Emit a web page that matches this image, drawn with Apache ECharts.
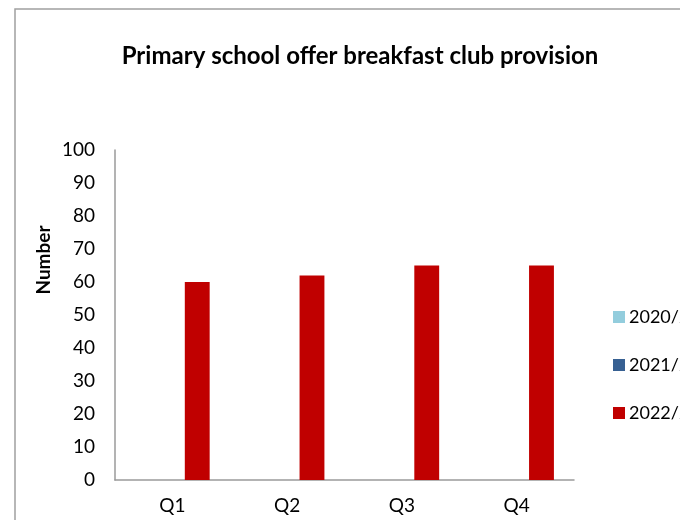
<!DOCTYPE html>
<html>
<head>
<meta charset="utf-8">
<script src="https://cdn.jsdelivr.net/npm/echarts@6/dist/echarts.min.js"></script>
<style>
  html, body { margin: 0; padding: 0; background: #ffffff; }
  #chart { width: 680px; height: 520px; }
</style>
</head>
<body>
<div id="chart"></div>
<script>
// Quarters on the x axis
const quarters = ['Q1', 'Q2', 'Q3', 'Q4'];
// Number of primary schools offering breakfast club provision, per school year
const year2020 = [null, null, null, null];
const year2021 = [null, null, null, null];
const year2022 = [60, 62, 65, 65];
const seriesNames = ['2020/21', '2021/22', '2022/23'];
const seriesColors = ['#93CDDD', '#376092', '#C00000'];
const yTicks = { min: 0, max: 100, interval: 10 };

const FONT = 'Lato, "Noto Sans", sans-serif';

const chart = echarts.init(document.getElementById('chart'), null, { renderer: 'canvas' });

const values = [year2020, year2021, year2022];

chart.setOption({
  backgroundColor: '#ffffff',
  animation: false,
  title: {
    text: 'Primary school offer breakfast club provision',
    left: 355,
    textAlign: 'center',
    top: 39,
    textStyle: { fontFamily: FONT, fontWeight: 'bold', fontSize: 24, color: '#000' }
  },
  legend: {
    orient: 'vertical',
    left: 608,
    top: 303,
    itemGap: 30,
    itemWidth: 12,
    itemHeight: 12,
    icon: 'rect',
    textStyle: { fontFamily: FONT, fontSize: 18, color: '#000', padding: [0, 0, 0, -1] },
    data: seriesNames
  },
  grid: { left: 115, right: 106, top: 150, bottom: 40, containLabel: false },
  xAxis: {
    type: 'category',
    data: quarters,
    axisLine: { lineStyle: { color: '#9a9a9a', width: 1.5 } },
    axisTick: { show: false },
    axisLabel: { fontFamily: FONT, fontSize: 19, color: '#000', margin: 16 }
  },
  yAxis: {
    type: 'value',
    min: yTicks.min,
    max: yTicks.max,
    interval: yTicks.interval,
    splitLine: { show: false },
    axisLine: { show: true, lineStyle: { color: '#9a9a9a', width: 1.5 } },
    axisTick: { show: false },
    axisLabel: { fontFamily: FONT, fontSize: 19, color: '#000', margin: 20 }
  },
  graphic: [
    {
      type: 'rect',
      shape: { x: 15, y: 9, width: 700, height: 540 },
      style: { fill: 'none', stroke: '#a0a0a0', lineWidth: 1.5 },
      silent: true
    },
    {
      type: 'text',
      x: 44,
      y: 260,
      rotation: Math.PI / 2,
      style: {
        text: 'Number',
        font: 'bold 19px ' + FONT,
        fill: '#000',
        align: 'center',
        verticalAlign: 'middle'
      }
    }
  ],
  series: seriesNames.map((name, i) => ({
    name: name,
    type: 'bar',
    data: values[i],
    itemStyle: { color: seriesColors[i] },
    barGap: '0%',
    barCategoryGap: '35%'
  }))
});
</script>
</body>
</html>
